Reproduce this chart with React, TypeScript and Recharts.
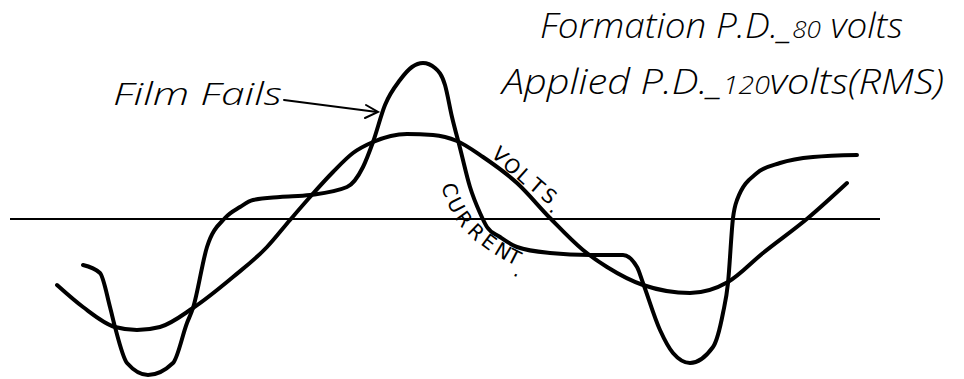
import React from 'react'
import { LineChart, Line, XAxis, YAxis, ReferenceLine } from 'recharts'

// time (arbitrary units) vs amplitude; zero is the base line
const voltsT = [57, 83, 115, 137, 160, 193, 233, 267, 290, 310, 333, 353, 373, 407, 433, 457, 483, 517, 550, 583, 607, 643, 690, 728, 763, 808, 847]
const voltsV = [-66, -88, -108, -111, -108, -89, -58, -28, -1, 22, 47, 66, 77, 85, 84, 78, 62, 36, 1, -31, -48, -66, -74, -63, -34, 1, 36]

const currentT = [83, 100, 110, 115, 127, 148, 173, 187, 193, 207, 225, 240, 253, 280, 310, 347, 363, 373, 385, 400, 412, 423, 435, 445, 452, 460, 470, 480, 487, 500, 517, 550, 590, 623, 637, 643, 660, 673, 690, 713, 723, 728, 733, 737, 757, 780, 813, 857]
const currentV = [-46, -54, -88, -108, -144, -156, -144, -104, -89, -28, 1, 12, 19, 22, 24, 32, 52, 77, 114, 139, 152, 156, 151, 134, 102, 71, 32, 6, -8, -18, -28, -34, -36, -36, -48, -64, -111, -134, -144, -128, -94, -64, 1, 19, 46, 56, 62, 64]

const volts = voltsT.map((t, i) => ({ t, v: voltsV[i] }))
const current = currentT.map((t, i) => ({ t, v: currentV[i] }))

const W = 964
const H = 379
const font = "'Open Sans', 'DejaVu Sans', sans-serif"

// curve labels are set letter by letter so they follow the bends
const voltsLetters = ['V', 'O', 'L', 'T', 'S', '.']
const voltsLetterPos = [
  [500, 155, 44],
  [512, 166, 43],
  [524, 176, 42],
  [537, 186, 41],
  [549, 196, 40],
  [555, 207, 40],
]
const currentLetters = ['C', 'U', 'R', 'R', 'E', 'N', 'T', '.']
const currentLetterPos = [
  [450, 190, 74],
  [456, 205, 63],
  [464, 219, 54],
  [476, 232, 45],
  [489, 242, 37],
  [503, 251, 31],
  [514, 257, 27],
  [518, 270, 25],
]

const letterRun = (letters: string[], pos: number[][]) =>
  letters.map((ch, i) => {
    const [x, y, a] = pos[i]
    return (
      <text
        key={ch + i}
        x={x}
        y={y}
        fontSize={20}
        textAnchor="middle"
        dominantBaseline="central"
        transform={`rotate(${a} ${x} ${y})`}
      >
        {ch}
      </text>
    )
  })

export default function App() {
  return (
    <div style={{ position: 'absolute', left: 0, top: 0, width: W, height: H, background: '#fff' }}>
      <LineChart width={W} height={H} margin={{ top: 0, right: 0, bottom: 0, left: 0 }}>
        <XAxis dataKey="t" type="number" domain={[0, W]} hide allowDataOverflow />
        <YAxis type="number" domain={[-160, 219]} hide allowDataOverflow />
        <ReferenceLine
          segment={[{ x: 10, y: 0 }, { x: 880, y: 0 }]}
          stroke="#000"
          strokeWidth={2}
        />
        <Line
          data={volts}
          dataKey="v"
          type="monotone"
          stroke="#000"
          strokeWidth={4}
          strokeLinecap="round"
          dot={false}
          isAnimationActive={false}
        />
        <Line
          data={current}
          dataKey="v"
          type="monotone"
          stroke="#000"
          strokeWidth={4}
          strokeLinecap="round"
          dot={false}
          isAnimationActive={false}
        />
      </LineChart>
      <svg width={W} height={H} style={{ position: 'absolute', left: 0, top: 0 }}>
        <g fontFamily={font} fontStyle="italic" fontWeight={300} fill="#000">
          <text x={540} y={38} fontSize={34} textLength={363} lengthAdjust="spacingAndGlyphs">
            Formation P.D.<tspan>_</tspan><tspan fontSize={24}>80</tspan> volts
          </text>
          <text x={502} y={94} fontSize={35} textLength={442} lengthAdjust="spacingAndGlyphs">
            Applied P.D.<tspan>_</tspan><tspan fontSize={25}>120</tspan>volts(RMS)
          </text>
          <text x={113} y={105} fontSize={31} textLength={169} lengthAdjust="spacingAndGlyphs">
            Film Fails
          </text>
        </g>
        <g fontFamily="'DejaVu Sans', sans-serif" fill="#000">
          {letterRun(voltsLetters, voltsLetterPos)}
          {letterRun(currentLetters, currentLetterPos)}
        </g>
        <g stroke="#000" strokeWidth={2} fill="none" strokeLinecap="round">
          <path d="M284 100 L377 112" />
          <path d="M366 105 L378 112 L365 118" />
        </g>
      </svg>
    </div>
  )
}
